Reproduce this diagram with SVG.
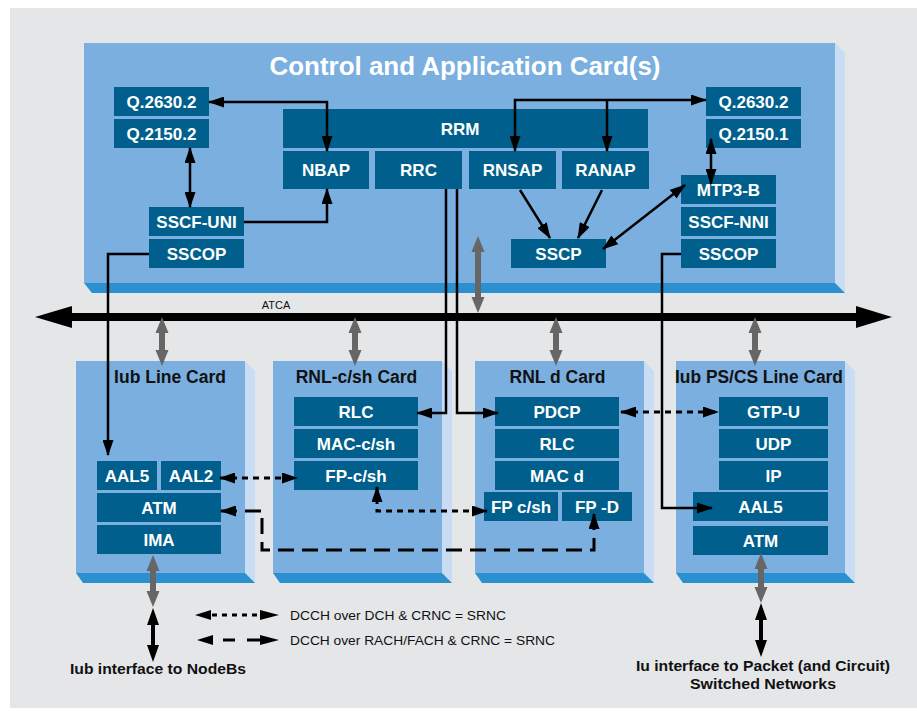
<svg xmlns="http://www.w3.org/2000/svg" width="917" height="711" viewBox="0 0 917 711">
<style>
.front{fill:#7aafdf}
.side{fill:#c8dcf3}
.bottom{fill:#2a90d0}
.box{fill:#005f8c}
.bt{font-family:"Liberation Sans",Arial,sans-serif;font-weight:bold;font-size:17px;fill:#fff;text-anchor:middle}
.ct{font-family:"Liberation Sans",Arial,sans-serif;font-weight:bold;font-size:17.5px;fill:#111;text-anchor:middle}
.lbl{font-family:"Liberation Sans",Arial,sans-serif;font-weight:bold;font-size:15px;fill:#111;text-anchor:middle}
.leg{font-family:"Liberation Sans",Arial,sans-serif;font-size:13.5px;fill:#111}
.con{fill:none;stroke:#000;stroke-width:2.5}
.dot{fill:none;stroke:#000;stroke-width:3;stroke-dasharray:6 5}
.dash{fill:none;stroke:#000;stroke-width:3;stroke-dasharray:16 8}
.gray{fill:#666}
.blk{fill:#000}
</style>
<defs>
<marker id="ah" viewBox="0 0 16 11" refX="15" refY="5.5" markerWidth="16" markerHeight="11" markerUnits="userSpaceOnUse" orient="auto-start-reverse">
<path d="M0,0 L16,5.5 L0,11 Z" fill="#000"/>
</marker>
</defs>
<rect x="0" y="0" width="917" height="711" fill="#fff"/>
<rect x="10" y="8" width="907" height="700" fill="#e5e6e8"/>

<!-- Control and Application Card -->
<g id="control-card">
<rect class="front" x="84" y="43" width="751" height="240"/>
<polygon class="side" points="835,43 845,53 845,293 835,283"/>
<polygon class="bottom" points="84,283 835,283 845,293 92,293"/>
<text x="465" y="75" font-family="Liberation Sans,Arial,sans-serif" font-weight="bold" font-size="25" fill="#fff" text-anchor="middle" textLength="391" lengthAdjust="spacingAndGlyphs">Control and Application Card(s)</text>
</g>

<!-- bottom cards -->
<g id="iub-card">
<rect class="front" x="76" y="361" width="169" height="212"/>
<polygon class="side" points="245,361 255,371 255,583 245,573"/>
<polygon class="bottom" points="76,573 245,573 255,583 83,583"/>
<text class="ct" x="170" y="383">Iub Line Card</text>
</g>
<g id="rnlcsh-card">
<rect class="front" x="273" y="361" width="169" height="212"/>
<polygon class="side" points="442,361 452,371 452,583 442,573"/>
<polygon class="bottom" points="273,573 442,573 452,583 280,583"/>
<text class="ct" x="356.5" y="383">RNL-c/sh Card</text>
</g>
<g id="rnld-card">
<rect class="front" x="475" y="361" width="169" height="212"/>
<polygon class="side" points="644,361 654,371 654,583 644,573"/>
<polygon class="bottom" points="475,573 644,573 654,583 482,583"/>
<text class="ct" x="557.5" y="383">RNL d Card</text>
</g>
<g id="iupscs-card">
<rect class="front" x="676" y="361" width="169" height="212"/>
<polygon class="side" points="845,361 855,371 855,583 845,573"/>
<polygon class="bottom" points="676,573 845,573 855,583 683,583"/>
<text class="ct" x="759" y="383" textLength="168" lengthAdjust="spacingAndGlyphs">Iub PS/CS Line Card</text>
</g>

<!-- ATCA bus -->
<g id="atca">
<rect x="70" y="313" width="788" height="8" fill="#000"/>
<polygon points="35,317 72,306 72,328" fill="#000"/>
<polygon points="892,317 856,306 856,328" fill="#000"/>
<text x="276" y="309" font-family="Liberation Sans,Arial,sans-serif" font-size="11" fill="#111" text-anchor="middle">ATCA</text>
</g>

<!-- nodes: control card -->
<g id="q2630-left"><rect class="box" x="114" y="87" width="95" height="29"/><text class="bt" x="161.5" y="108">Q.2630.2</text></g>
<g id="q2150-2"><rect class="box" x="114" y="119" width="95" height="29"/><text class="bt" x="161.5" y="140">Q.2150.2</text></g>
<g id="rrm"><rect class="box" x="283" y="109" width="365" height="39"/><text class="bt" x="460" y="135">RRM</text></g>
<g id="nbap"><rect class="box" x="283" y="151" width="86" height="38"/><text class="bt" x="326" y="176">NBAP</text></g>
<g id="rrc"><rect class="box" x="375" y="151" width="87" height="38"/><text class="bt" x="418.5" y="176">RRC</text></g>
<g id="rnsap"><rect class="box" x="469" y="151" width="87" height="38"/><text class="bt" x="512.5" y="176">RNSAP</text></g>
<g id="ranap"><rect class="box" x="562" y="151" width="87" height="38"/><text class="bt" x="605.5" y="176">RANAP</text></g>
<g id="sscf-uni"><rect class="box" x="149" y="207" width="95" height="29"/><text class="bt" x="196.5" y="228">SSCF-UNI</text></g>
<g id="sscop-left"><rect class="box" x="149" y="239" width="95" height="29"/><text class="bt" x="196.5" y="260">SSCOP</text></g>
<g id="sscp"><rect class="box" x="511" y="239" width="95" height="29"/><text class="bt" x="558.5" y="260">SSCP</text></g>
<g id="q2630-right"><rect class="box" x="706" y="87" width="95" height="29"/><text class="bt" x="753.5" y="108">Q.2630.2</text></g>
<g id="q2150-1"><rect class="box" x="706" y="119" width="95" height="29"/><text class="bt" x="753.5" y="140">Q.2150.1</text></g>
<g id="mtp3b"><rect class="box" x="681" y="175" width="95" height="29"/><text class="bt" x="728.5" y="196">MTP3-B</text></g>
<g id="sscf-nni"><rect class="box" x="681" y="207" width="95" height="29"/><text class="bt" x="728.5" y="228">SSCF-NNI</text></g>
<g id="sscop-right"><rect class="box" x="681" y="239" width="95" height="29"/><text class="bt" x="728.5" y="260">SSCOP</text></g>

<!-- Iub line card nodes -->
<g id="aal5-iub"><rect class="box" x="97" y="461" width="60" height="29"/><text class="bt" x="127" y="482">AAL5</text></g>
<g id="aal2"><rect class="box" x="161" y="461" width="60" height="29"/><text class="bt" x="191" y="482">AAL2</text></g>
<g id="atm-iub"><rect class="box" x="97" y="493" width="124" height="29"/><text class="bt" x="159" y="514">ATM</text></g>
<g id="ima"><rect class="box" x="97" y="525" width="124" height="29"/><text class="bt" x="159" y="546">IMA</text></g>

<!-- RNL-c/sh nodes -->
<g id="rlc-csh"><rect class="box" x="294" y="397" width="124" height="29"/><text class="bt" x="356" y="418">RLC</text></g>
<g id="mac-csh"><rect class="box" x="294" y="429" width="124" height="29"/><text class="bt" x="356" y="450">MAC-c/sh</text></g>
<g id="fp-csh"><rect class="box" x="294" y="461" width="124" height="29"/><text class="bt" x="356" y="482">FP-c/sh</text></g>

<!-- RNL d nodes -->
<g id="pdcp"><rect class="box" x="495" y="397" width="124" height="29"/><text class="bt" x="557" y="418">PDCP</text></g>
<g id="rlc-d"><rect class="box" x="495" y="429" width="124" height="29"/><text class="bt" x="557" y="450">RLC</text></g>
<g id="mac-d"><rect class="box" x="495" y="461" width="124" height="29"/><text class="bt" x="557" y="482">MAC d</text></g>
<g id="fp-csh-d"><rect class="box" x="484" y="492" width="74" height="29"/><text class="bt" x="521" y="513">FP c/sh</text></g>
<g id="fp-d"><rect class="box" x="562" y="492" width="70" height="29"/><text class="bt" x="597" y="513">FP -D</text></g>

<!-- Iu PS/CS nodes -->
<g id="gtpu"><rect class="box" x="719" y="397" width="109" height="29"/><text class="bt" x="773.5" y="418">GTP-U</text></g>
<g id="udp"><rect class="box" x="719" y="429" width="109" height="29"/><text class="bt" x="773.5" y="450">UDP</text></g>
<g id="ip"><rect class="box" x="719" y="461" width="109" height="29"/><text class="bt" x="773.5" y="482">IP</text></g>
<g id="aal5-iu"><rect class="box" x="693" y="492" width="135" height="29"/><text class="bt" x="760.5" y="513">AAL5</text></g>
<g id="atm-iu"><rect class="box" x="693" y="526" width="135" height="29"/><text class="bt" x="760.5" y="547">ATM</text></g>

<!-- connectors -->
<g id="connectors">
<path class="con" d="M209,102 H327 V151" marker-start="url(#ah)" marker-end="url(#ah)"/>
<path class="con" d="M190,148 V207" marker-start="url(#ah)" marker-end="url(#ah)"/>
<path class="con" d="M244,222 H327 V189" marker-end="url(#ah)"/>
<path class="con" d="M149,254 H108 V455" marker-end="url(#ah)"/>
<path class="con" d="M515,151 V100 H706" marker-start="url(#ah)" marker-end="url(#ah)"/>
<path class="con" d="M607,100 V151" marker-end="url(#ah)"/>
<path class="con" d="M520,190 L550,238" marker-end="url(#ah)"/>
<path class="con" d="M602,190 L578,238" marker-end="url(#ah)"/>
<path class="con" d="M603,249 L685,185" marker-start="url(#ah)" marker-end="url(#ah)"/>
<path class="con" d="M711,139 V184" marker-start="url(#ah)" marker-end="url(#ah)"/>
<path class="con" d="M681,254 H662 V508 H712" marker-end="url(#ah)"/>
<path class="con" d="M446,189 V413 H417" marker-end="url(#ah)"/>
<path class="con" d="M457,189 V413 H498" marker-end="url(#ah)"/>
<path class="dot" d="M220,478 H297" marker-start="url(#ah)" marker-end="url(#ah)"/>
<path class="dot" d="M377,487 V511 H487" marker-start="url(#ah)" marker-end="url(#ah)"/>
<path class="dash" d="M221,511 H262 V550 H594 V514" marker-start="url(#ah)" marker-end="url(#ah)"/>
<path class="dot" d="M621,412 H718" marker-start="url(#ah)" marker-end="url(#ah)"/>
<!-- gray backplane arrows -->
<path class="gray" d="M478,236 L484.5,252 L481,252 L481,297 L484.5,297 L478,313 L471.5,297 L475,297 L475,252 L471.5,252 Z"/>
<path class="gray" d="M162,317 L168.5,333 L165,333 L165,350 L168.5,350 L162,366 L155.5,350 L159,350 L159,333 L155.5,333 Z"/>
<path class="gray" d="M355,317 L361.5,333 L358,333 L358,350 L361.5,350 L355,366 L348.5,350 L352,350 L352,333 L348.5,333 Z"/>
<path class="gray" d="M556,317 L562.5,333 L559,333 L559,350 L562.5,350 L556,366 L549.5,350 L553,350 L553,333 L549.5,333 Z"/>
<path class="gray" d="M755,317 L761.5,333 L758,333 L758,350 L761.5,350 L755,366 L748.5,350 L752,350 L752,333 L748.5,333 Z"/>
<path class="gray" d="M153,555 L159.5,571 L156,571 L156,591 L159.5,591 L153,607 L146.5,591 L150,591 L150,571 L146.5,571 Z"/>
<path class="gray" d="M761,553 L767.5,569 L764,569 L764,587 L767.5,587 L761,603 L754.5,587 L758,587 L758,569 L754.5,569 Z"/>
<!-- black external interface arrows -->
<path class="blk" d="M153,608 L159,625 L155,625 L155,645 L159,645 L153,662 L147,645 L151,645 L151,625 L147,625 Z"/>
<path class="blk" d="M761,603 L767,620 L763,620 L763,640 L767,640 L761,657 L755,640 L759,640 L759,620 L755,620 Z"/>
</g>

<!-- legend -->
<g id="legend">
<polygon class="blk" points="195,615 211,610 211,620"/>
<line x1="212" y1="615" x2="260" y2="615" stroke="#000" stroke-width="3" stroke-dasharray="5 5"/>
<polygon class="blk" points="279,615 260,610 260,620"/>
<text class="leg" x="290" y="620" textLength="216" lengthAdjust="spacingAndGlyphs">DCCH over DCH &amp; CRNC = SRNC</text>
<polygon class="blk" points="197,640 213,635 213,645"/>
<line x1="223" y1="640" x2="235" y2="640" stroke="#000" stroke-width="3"/>
<line x1="247" y1="640" x2="262" y2="640" stroke="#000" stroke-width="3"/>
<polygon class="blk" points="279,640 260,635 260,645"/>
<text class="leg" x="290" y="645" textLength="265" lengthAdjust="spacingAndGlyphs">DCCH over RACH/FACH &amp; CRNC = SRNC</text>
</g>

<!-- external labels -->
<g id="labels">
<text class="lbl" x="158" y="674" textLength="176" lengthAdjust="spacingAndGlyphs">Iub interface to NodeBs</text>
<text class="lbl" x="763" y="671" textLength="254" lengthAdjust="spacingAndGlyphs">Iu interface to Packet (and Circuit)</text>
<text class="lbl" x="763" y="689" textLength="146" lengthAdjust="spacingAndGlyphs">Switched Networks</text>
</g>
</svg>
